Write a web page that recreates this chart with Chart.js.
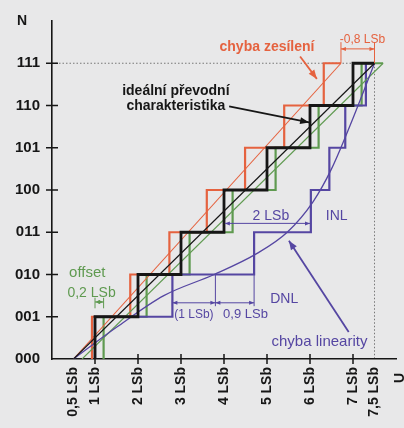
<!DOCTYPE html>
<html>
<head>
<meta charset="utf-8">
<script src="https://cdn.jsdelivr.net/npm/chart.js@4.4.1/dist/chart.umd.min.js"></script>
<style>
  html, body { margin: 0; padding: 0; background: #e8e8e9; }
  #wrap { width: 404px; height: 428px; }
</style>
</head>
<body>
<div id="wrap"><canvas id="c"></canvas></div>
<script>
// kódy na ose N a popisky osy U
const codes = ['000', '001', '010', '011', '100', '101', '110', '111'];
const xTicks = [0.5, 1, 2, 3, 4, 5, 6, 7, 7.5];
const xLabels = ['0,5 LSb', '1 LSb', '2 LSb', '3 LSb', '4 LSb', '5 LSb', '6 LSb', '7 LSb', '7,5 LSb'];

// přechody mezi kódy (v LSb) a konec posledního schodu
const idealSteps = [1, 2, 3, 4, 5, 6, 7];
const idealEnd = 7.5;
const offsetSteps = [1.2, 2.2, 3.2, 4.2, 5.2, 6.2, 7.2];
const offsetEnd = 7.7;
const gainSteps = [0.93, 1.82, 2.73, 3.6, 4.49, 5.4, 6.32];
const gainEnd = 6.72;
const linSteps = [1, 2.8, 4.7, 6.02, 6.45, 6.82, 7.3];
const linEnd = 7.5;

// přímky charakteristik [x, y]
const idealLine = [[0.5, 0], [7.5, 7]];
const offsetLine = [[0.7, 0], [7.7, 7]];
const gainLine = [[0.5, 0], [6.72, 7]];

// křivka nelinearity (INL)
const inlX = [0.5, 1.5, 2.6, 3.77, 4.77, 5.47, 6.07, 6.5, 7.0, 7.5];
const inlY = [0, 0.75, 1.5, 2.0, 2.5, 3.0, 3.72, 4.5, 5.7, 7];

const RED = '#e5623f', GREEN = '#5f9a50', BLUE = '#5546a2', BLACK = '#161616';
const FONT = '"Liberation Sans", Arial, sans-serif';

function stairs(steps, end) {
  const pts = [{x: steps[0], y: 0}];
  steps.forEach((t, i) => {
    pts.push({x: t, y: i + 1});
    pts.push({x: i + 1 < steps.length ? steps[i + 1] : end, y: i + 1});
  });
  return pts;
}
const toPts = (arr) => arr.map(p => ({x: p[0], y: p[1]}));

function ds(data, color, width, order, extra) {
  return Object.assign({
    data, borderColor: color, borderWidth: width, showLine: true,
    pointRadius: 0, fill: false, order, borderJoinStyle: 'miter'
  }, extra || {});
}

// popisky a kóty (v jednotkách os)
const texts = [
  {t: 'chyba zesílení', x: 5.0, y: 7.37, c: RED, f: 'bold 14px'},
  {t: '-0,8 LSb', x: 7.22, y: 7.56, c: RED, f: '12px'},
  {t: 'ideální převodní', x: 2.88, y: 6.33, c: BLACK, f: 'bold 14px'},
  {t: 'charakteristika', x: 2.88, y: 5.99, c: BLACK, f: 'bold 14px'},
  {t: 'offset', x: 0.82, y: 2.05, c: GREEN, f: '15px'},
  {t: '0,2 LSb', x: 0.92, y: 1.56, c: GREEN, f: '14px'},
  {t: '2 LSb', x: 5.09, y: 3.39, c: BLUE, f: '14px'},
  {t: 'INL', x: 6.62, y: 3.39, c: BLUE, f: '14px'},
  {t: 'DNL', x: 5.4, y: 1.42, c: BLUE, f: '14px'},
  {t: '(1 LSb)', x: 3.3, y: 1.05, c: BLUE, f: '12px'},
  {t: '0,9 LSb', x: 4.5, y: 1.05, c: BLUE, f: '13px'},
  {t: 'chyba linearity', x: 6.22, y: 0.41, c: BLUE, f: '15px'}
];
const arrows = [
  {x1: 5.77, y1: 7.16, x2: 6.16, y2: 6.63, c: RED},
  {x1: 4.12, y1: 5.98, x2: 5.98, y2: 5.6, c: BLACK},
  {x1: 6.9, y1: 0.64, x2: 5.51, y2: 2.8, c: BLUE}
];
const dims = [
  {xa: 6.72, xb: 7.5, y: 7.34, c: RED, ext: [[6.72, 7.0, 7.5], [7.5, 7.0, 7.5]]},
  {xa: 1.0, xb: 1.2, y: 1.35, c: GREEN, ext: [[1.0, 1.2, 1.45], [1.2, 1.2, 1.45]]},
  {xa: 4.02, xb: 6.0, y: 3.21, c: BLUE, ext: []},
  {xa: 2.8, xb: 3.8, y: 1.33, c: BLUE, ext: [[2.8, 1.25, 1.4]]},
  {xa: 3.8, xb: 4.7, y: 1.33, c: BLUE, ext: [[3.8, 1.25, 2.0], [4.7, 1.25, 2.0]]}
];

function head(ctx, x1, y1, x2, y2, len, wid) {
  const a = Math.atan2(y2 - y1, x2 - x1);
  ctx.beginPath();
  ctx.moveTo(x2, y2);
  ctx.lineTo(x2 - len * Math.cos(a) + wid * Math.sin(a), y2 - len * Math.sin(a) - wid * Math.cos(a));
  ctx.lineTo(x2 - len * Math.cos(a) - wid * Math.sin(a), y2 - len * Math.sin(a) + wid * Math.cos(a));
  ctx.closePath();
  ctx.fill();
}

const bgPlugin = {
  id: 'bg',
  beforeDraw(chart) {
    const ctx = chart.ctx;
    ctx.save();
    ctx.fillStyle = '#e8e8e9';
    ctx.fillRect(0, 0, chart.width, chart.height);
    const xs = chart.scales.x, ys = chart.scales.y;
    // tečkované pomocné čáry
    ctx.strokeStyle = '#777';
    ctx.lineWidth = 1;
    ctx.setLineDash([1.5, 2]);
    ctx.beginPath();
    ctx.moveTo(xs.getPixelForValue(0), ys.getPixelForValue(7));
    ctx.lineTo(xs.getPixelForValue(7), ys.getPixelForValue(7));
    ctx.moveTo(xs.getPixelForValue(7.5), ys.getPixelForValue(7));
    ctx.lineTo(xs.getPixelForValue(7.5), ys.getPixelForValue(0));
    ctx.stroke();
    ctx.restore();
  }
};

const decoPlugin = {
  id: 'deco',
  afterDraw(chart) {
    const ctx = chart.ctx;
    const xs = chart.scales.x, ys = chart.scales.y;
    const px = v => xs.getPixelForValue(v), py = v => ys.getPixelForValue(v);
    ctx.save();
    // značky na osách
    ctx.strokeStyle = BLACK;
    ctx.lineWidth = 1.5;
    ctx.beginPath();
    for (let v = 1; v <= 7; v++) {
      ctx.moveTo(px(v), py(0) - 5); ctx.lineTo(px(v), py(0) + 5);
      ctx.moveTo(px(0) - 6, py(v)); ctx.lineTo(px(0) + 6, py(v));
    }
    ctx.stroke();

    // kóty
    dims.forEach(d => {
      ctx.strokeStyle = d.c; ctx.fillStyle = d.c; ctx.lineWidth = 1;
      const y = py(d.y), a = px(d.xa), b = px(d.xb);
      ctx.beginPath();
      ctx.moveTo(a, y); ctx.lineTo(b, y);
      d.ext.forEach(e => { ctx.moveTo(px(e[0]), py(e[1])); ctx.lineTo(px(e[0]), py(e[2])); });
      ctx.stroke();
      head(ctx, b, y, a, y, 5, 2);
      head(ctx, a, y, b, y, 5, 2);
    });

    // šipky
    arrows.forEach(r => {
      ctx.strokeStyle = r.c; ctx.fillStyle = r.c; ctx.lineWidth = 1.8;
      ctx.beginPath();
      ctx.moveTo(px(r.x1), py(r.y1)); ctx.lineTo(px(r.x2), py(r.y2));
      ctx.stroke();
      head(ctx, px(r.x1), py(r.y1), px(r.x2), py(r.y2), 9, 3.5);
    });

    // texty
    ctx.textAlign = 'center';
    ctx.textBaseline = 'middle';
    texts.forEach(t => {
      ctx.font = t.f + ' ' + FONT;
      ctx.fillStyle = t.c;
      ctx.fillText(t.t, px(t.x), py(t.y));
    });

    // názvy os
    ctx.fillStyle = BLACK;
    ctx.font = 'bold 14px ' + FONT;
    ctx.fillText('N', 22, 21);
    ctx.translate(400, 378);
    ctx.rotate(-Math.PI / 2);
    ctx.fillText('U', 0, 0);
    ctx.restore();
  }
};

new Chart(document.getElementById('c'), {
  type: 'scatter',
  data: {
    datasets: [
      ds(stairs(gainSteps, gainEnd), RED, 2.2, 6),
      ds(stairs(offsetSteps, offsetEnd), GREEN, 2.2, 5),
      ds(stairs(linSteps, linEnd), BLUE, 2.2, 4),
      ds(toPts(gainLine), RED, 1.1, 3),
      ds(toPts(offsetLine), GREEN, 1.1, 3),
      ds(toPts(idealLine), BLACK, 1.2, 2),
      ds(inlX.map((x, i) => ({x, y: inlY[i]})), BLUE, 1.3, 2, {cubicInterpolationMode: 'monotone'}),
      ds(stairs(idealSteps, idealEnd), BLACK, 2.8, 1)
    ]
  },
  options: {
    responsive: true,
    maintainAspectRatio: false,
    animation: false,
    layout: { padding: { top: 10, right: 8, left: 0, bottom: 0 } },
    plugins: { legend: { display: false }, tooltip: { enabled: false } },
    scales: {
      x: {
        type: 'linear', min: 0, max: 8,
        grid: { display: false, drawTicks: false },
        border: { display: true, color: BLACK, width: 1.6 },
        afterBuildTicks: s => { s.ticks = xTicks.map(v => ({value: v})); },
        afterFit: s => { s.height = 69; },
        ticks: {
          autoSkip: false, minRotation: 90, maxRotation: 90, padding: 8,
          color: BLACK, font: { family: FONT, size: 14, weight: 'bold' },
          callback: (v) => xLabels[xTicks.indexOf(v)]
        }
      },
      y: {
        type: 'linear', min: 0, max: 8,
        grid: { display: false, drawTicks: false },
        border: { display: true, color: BLACK, width: 1.6 },
        afterBuildTicks: s => { s.ticks = codes.map((c, i) => ({value: i})); },
        afterFit: s => { s.width = 52; },
        ticks: {
          padding: 12, color: BLACK, font: { family: FONT, size: 15, weight: 'bold' },
          callback: (v) => codes[v]
        }
      }
    }
  },
  plugins: [bgPlugin, decoPlugin]
});
</script>
</body>
</html>
